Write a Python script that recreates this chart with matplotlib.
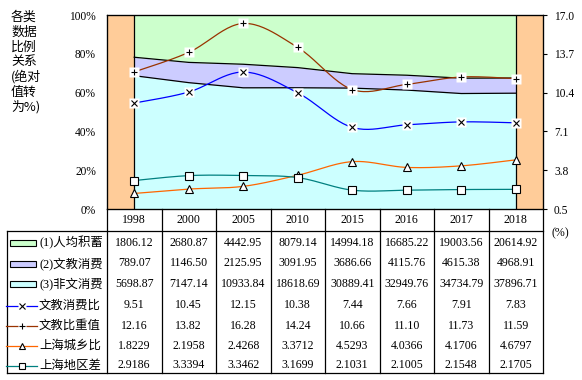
import matplotlib
matplotlib.use("Agg")
import matplotlib.pyplot as plt
import numpy as np

years = ["1998", "2000", "2005", "2010", "2015", "2016", "2017", "2018"]
savings = [1806.12, 2680.87, 4442.95, 8079.14, 14994.18, 16685.22, 19003.56, 20614.92]
culture = [789.07, 1146.50, 2125.95, 3091.95, 3686.66, 4115.76, 4615.38, 4968.91]
nonculture = [5698.87, 7147.14, 10933.84, 18618.69, 30889.41, 32949.76, 34734.79, 37896.71]
edu_ratio = [9.51, 10.45, 12.15, 10.38, 7.44, 7.66, 7.91, 7.83]
edu_weight = [12.16, 13.82, 16.28, 14.24, 10.66, 11.10, 11.73, 11.59]
urban_rural = [1.8229, 2.1958, 2.4268, 3.3712, 4.5293, 4.0366, 4.1706, 4.6797]
region_gap = [2.9186, 3.3394, 3.3462, 3.1699, 2.1031, 2.1005, 2.1548, 2.1705]

row_names = ["(1)人均积蓄", "(2)文教消费", "(3)非文消费", "文教消费比", "文教比重值", "上海城乡比", "上海地区差"]
row_fmt = ["%.2f", "%.2f", "%.2f", "%.2f", "%.2f", "%.4f", "%.4f"]
rows = [savings, culture, nonculture, edu_ratio, edu_weight, urban_rural, region_gap]

area_colors = ["#CCFFCC", "#CCCCFF", "#CCFFFF"]
line_colors = ["#0000FF", "#993300", "#FF6600", "#008080"]
line_markers = ["x", "+", "^", "s"]

serif = ["Liberation Serif", "Noto Sans CJK SC"]
cjk = ["Noto Sans CJK SC", "Liberation Serif"]

W, H = 582, 380


def smooth(y, n=25):
    # excel-like smoothed line (bezier through the points)
    y = np.asarray(y, float)
    pts = np.column_stack([np.arange(len(y), dtype=float), y])
    p = np.vstack([pts[0], pts, pts[-1]])
    t = np.linspace(0, 1, n)[:, None]
    out = []
    for i in range(len(pts) - 1):
        p0, p1, p2, p3 = p[i], p[i + 1], p[i + 2], p[i + 3]
        c1 = p1 + (p2 - p0) / 6
        c2 = p2 - (p3 - p1) / 6
        seg = (1 - t) ** 3 * p1 + 3 * (1 - t) ** 2 * t * c1 + 3 * (1 - t) * t ** 2 * c2 + t ** 3 * p2
        out.append(seg if i == 0 else seg[1:])
    out = np.vstack(out)
    return out[:, 0], out[:, 1]


fig = plt.figure(figsize=(W / 100, H / 100), dpi=100)
left, right, top, bottom = 107, 543, 15, 209
ax = fig.add_axes([left / W, 1 - bottom / H, (right - left) / W, (bottom - top) / H])

x = np.arange(len(years))
tot = np.array(savings) + np.array(culture) + np.array(nonculture)
p3 = np.array(nonculture) / tot * 100
p2 = p3 + np.array(culture) / tot * 100

ax.axvspan(-0.5, 0, color="#FFCC99", lw=0)
ax.axvspan(len(years) - 1, len(years) - 0.5, color="#FFCC99", lw=0)
ax.fill_between(x, 0, p3, color=area_colors[2], lw=0)
ax.fill_between(x, p3, p2, color=area_colors[1], lw=0)
ax.fill_between(x, p2, 100, color=area_colors[0], lw=0)
ax.plot(x, p3, color="black", lw=0.9)
ax.plot(x, p2, color="black", lw=0.9)
ax.plot([0, 0], [0, 100], color="black", lw=0.9)
ax.plot([7, 7], [0, 100], color="black", lw=0.9)

ax.set_xlim(-0.5, len(years) - 0.5)
ax.set_ylim(0, 100)
ax.set_xticks([])
ax.set_yticks(range(0, 101, 20))
ax.set_yticklabels(["%d%%" % v for v in range(0, 101, 20)], family=serif, fontsize=8.3)
ax.tick_params(axis="y", length=0, pad=8)
for s in ax.spines.values():
    s.set_linewidth(0.9)

ax2 = ax.twinx()
ax2.set_ylim(0.5, 17.0)
rt = [0.5, 3.8, 7.1, 10.4, 13.7, 17.0]
ax2.set_yticks(rt)
ax2.set_yticklabels(["%.1f" % v for v in rt], family=serif, fontsize=8.3)
ax2.tick_params(axis="y", length=3, width=0.8, pad=5)
ax2.set_xlim(-0.5, len(years) - 0.5)

for vals, c, m in zip([edu_ratio, edu_weight, urban_rural, region_gap], line_colors, line_markers):
    sx, sy = smooth(vals)
    ax2.plot(sx, sy, color=c, lw=0.9)
    if m in ("x", "+"):
        ax2.plot(x, vals, ls="none", marker="s", ms=7.5, mfc="white", mec="none")
        ax2.plot(x, vals, ls="none", marker=m, ms=5, mew=0.8, color="black")
    else:
        ax2.plot(x, vals, ls="none", marker=m, ms=5.5, mfc="white", mec="black", mew=0.8)

# data table below the chart
tab = fig.add_axes([0, 0, 1, 1])
tab.set_xlim(0, W)
tab.set_ylim(H, 0)
tab.axis("off")
colw = (right - left) / len(years)
tab_top, tab_bot = 231, 373
tab.plot([7, right], [tab_top, tab_top], color="black", lw=0.9)
tab.plot([7, right], [tab_bot, tab_bot], color="black", lw=0.9)
tab.plot([7, 7], [tab_top, tab_bot], color="black", lw=0.9)
for k in range(len(years) + 1):
    xx = left + k * colw
    tab.plot([xx, xx], [bottom, tab_bot], color="black", lw=0.9)

for i, yr in enumerate(years):
    tab.text(left + (i + 0.5) * colw, 220, yr, ha="center", va="center", family=serif, fontsize=8.6)

row_y = [243, 263.5, 284, 305.5, 326, 346, 365.5]
for r, (name, vals, fmt) in enumerate(zip(row_names, rows, row_fmt)):
    yy = row_y[r]
    for i, v in enumerate(vals):
        tab.text(left + (i + 0.5) * colw, yy, fmt % v, ha="center", va="center", family=serif, fontsize=8.6)
    tab.text(39, yy, name, ha="left", va="center", family=serif, fontsize=8.9)
    if r < 3:
        tab.add_patch(plt.Rectangle((10, yy - 3), 26, 6, facecolor=area_colors[r], edgecolor="black", lw=0.8))
    else:
        c = line_colors[r - 3]
        m = line_markers[r - 3]
        tab.plot([6, 37], [yy, yy], color=c, lw=0.9)
        if m in ("x", "+"):
            tab.plot([22], [yy], ls="none", marker="s", ms=6, mfc="white", mec="none")
            tab.plot([22], [yy], ls="none", marker=m, ms=4, mew=0.8, color="black")
        else:
            tab.plot([22], [yy], ls="none", marker=m, ms=4.5, mfc="white", mec="black", mew=0.8)

tab.text(560, 233, "(%)", ha="center", va="center", family=serif, fontsize=8.6)

title_lines = ["各类", "数据", "比例", "关系", "(绝对", "值转", "为%)"]
for i, t in enumerate(title_lines):
    tab.text(11, 17 + i * 15, t, ha="left", va="center", family=cjk, fontsize=9.3)

fig.savefig("out.png", dpi=100)
